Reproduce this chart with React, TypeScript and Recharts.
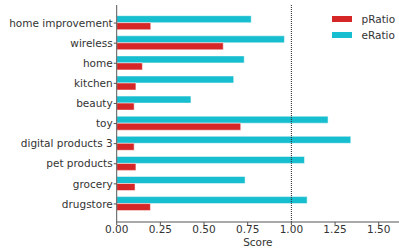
import React from 'react';
import { BarChart, Bar, XAxis, YAxis, ReferenceLine } from 'recharts';

const categories = ['home improvement', 'wireless', 'home', 'kitchen', 'beauty', 'toy', 'digital products 3', 'pet products', 'grocery', 'drugstore'];
const eRatio = [0.77, 0.96, 0.73, 0.67, 0.425, 1.21, 1.34, 1.075, 0.735, 1.09];
const pRatio = [0.195, 0.61, 0.147, 0.11, 0.1, 0.71, 0.1, 0.11, 0.105, 0.193];
const xTicks = [0, 0.25, 0.5, 0.75, 1.0, 1.25, 1.5];

const data = categories.map((c, i) => ({ name: c, eRatio: eRatio[i], pRatio: pRatio[i] }));

const RED = '#d62728';
const CYAN = '#17becf';
const TEXT = '#333333';
const FONT = 'DejaVu Sans, sans-serif';

const legendItems = [
  { label: 'pRatio', color: RED },
  { label: 'eRatio', color: CYAN },
];

const YTick = (props: any) => {
  const { x, y, payload } = props;
  return (
    <text x={x} y={y} dy="0.35em" textAnchor="end" fill={TEXT} fontSize={10.5} fontFamily={FONT}>
      {payload.value}
    </text>
  );
};

export default function App() {
  return (
    <div style={{ position: 'absolute', left: 0, top: 0, width: 399, height: 250, background: '#fff' }}>
      <BarChart
        width={399}
        height={250}
        data={data}
        layout="vertical"
        margin={{ top: 5, right: 0, bottom: 0, left: 0 }}
        barCategoryGap={2.7}
        barGap={0}
        style={{ fontFamily: FONT }}
      >
        <XAxis
          type="number"
          domain={[0, 1.616]}
          ticks={xTicks}
          allowDataOverflow
          height={28}
          tickFormatter={(v: number) => v.toFixed(2)}
          tick={{ fill: TEXT, fontSize: 10.5, fontFamily: FONT }}
          tickSize={3}
          tickMargin={1}
          axisLine={{ stroke: '#555', strokeWidth: 1 }}
          tickLine={{ stroke: '#555' }}
          label={{ value: 'Score', position: 'insideBottom', offset: 4, fill: TEXT, fontSize: 10.5, fontFamily: FONT }}
        />
        <YAxis
          type="category"
          dataKey="name"
          width={116.7}
          padding={{ top: 8, bottom: 8 }}
          tick={<YTick />}
          tickSize={3}
          tickMargin={1}
          interval={0}
          axisLine={{ stroke: '#555', strokeWidth: 1 }}
          tickLine={{ stroke: '#555' }}
        />
        <Bar dataKey="eRatio" fill={CYAN} stroke="#ffffff" strokeWidth={0.5} isAnimationActive={false} />
        <Bar dataKey="pRatio" fill={RED} stroke="#ffffff" strokeWidth={0.5} isAnimationActive={false} />
        <ReferenceLine x={1} stroke="#222" strokeWidth={1} strokeDasharray="1 1" />
      </BarChart>
      <div style={{ position: 'absolute', left: 331.5, top: 11, fontFamily: FONT, fontSize: 10.5, color: TEXT }}>
        {legendItems.map((it) => (
          <div key={it.label} style={{ display: 'flex', alignItems: 'center', height: 16 }}>
            <div style={{ width: 20, height: 6.5, background: it.color, marginRight: 10 }} />
            <span>{it.label}</span>
          </div>
        ))}
      </div>
    </div>
  );
}
